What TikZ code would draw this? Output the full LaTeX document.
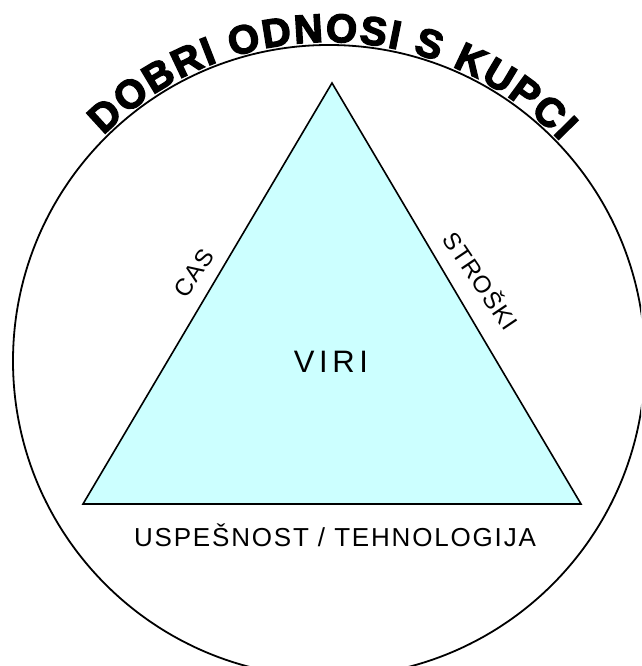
\documentclass[tikz,border=0pt]{standalone}
\usepackage{fontspec}
\setmainfont{Liberation Sans}
\newfontfamily\titlefont{Liberation Sans}[BoldFeatures={FakeBold=3.5}]
\newfontfamily\virifont{Liberation Sans}[LetterSpace=15]
\newfontfamily\basefont{Liberation Sans}[LetterSpace=7]
\newfontfamily\sidefont{Liberation Sans}[LetterSpace=5]
\usetikzlibrary{decorations.text}
\definecolor{tricol}{RGB}{204,255,255}
\tikzset{
  outline/.style={draw=black, line width=1.8pt},
  tri/.style={draw=black, line width=1.6pt, fill=tricol, line join=miter},
  lbl/.style={inner sep=0pt, text=black}
}
\begin{document}
\begin{tikzpicture}[x=1pt,y=1pt]
\useasboundingbox (0,0) rectangle (641,666);
\clip (0,0) rectangle (641,666);
\fill[white] (0,0) rectangle (641,666);
\coordinate (O) at (329,305);
\draw[outline] (O) circle[radius=316];
\coordinate (A) at (332,583);
\coordinate (B) at (83,162);
\coordinate (C) at (581,162);
\draw[tri] (A) -- (B) -- (C) -- cycle;
\node[lbl, anchor=base, font={\virifont\fontsize{31}{33}\selectfont}] (viri) at (331,293.3) {VIRI};
\node[lbl, anchor=base, font={\basefont\fontsize{26}{28}\selectfont}] (base) at (335,119) {USPEŠNOST / TEHNOLOGIJA};
\node[lbl, rotate=56, font={\sidefont\fontsize{24}{26}\selectfont}] (cas) at (194,393) {CAS};
\node[lbl, rotate=-56, font={\sidefont\fontsize{24}{26}\selectfont}] (stroski) at (482,386) {STROŠKI};
\path[decorate, decoration={text along path, text align={fit to path},
  text={|\titlefont\bfseries\fontsize{40}{42}\selectfont|DOBRI ODNOSI S KUPCI}}]
  (O) ++(135:319) arc[start angle=135, end angle=43.5, radius=319];
\end{tikzpicture}
\end{document}
